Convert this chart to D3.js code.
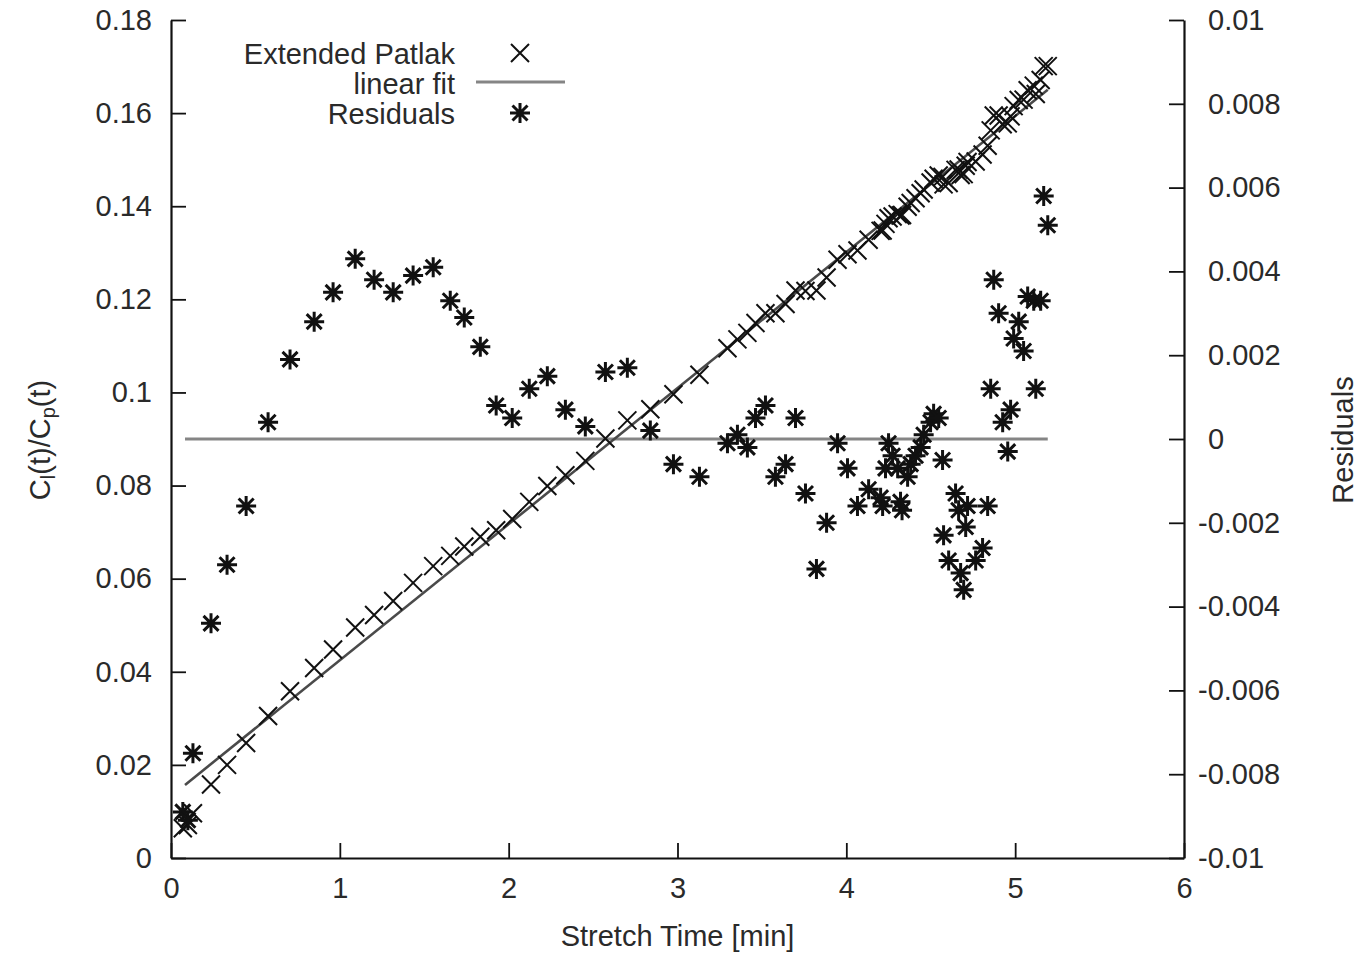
<!DOCTYPE html>
<html>
<head>
<meta charset="utf-8">
<script src="https://cdn.jsdelivr.net/npm/d3@7"></script>
<style>
  html, body { margin: 0; padding: 0; background: #fff; }
  svg text { font-family: "Liberation Sans", Arial, Helvetica, sans-serif; fill: #2a2a2a; }
</style>
</head>
<body>
<svg id="chart" width="1371" height="954"></svg>
<script>
// ---- data ----
const times = [0.07, 0.10, 0.13, 0.237, 0.332, 0.445, 0.575, 0.705, 0.848, 0.960,
  1.091, 1.203, 1.316, 1.434, 1.553, 1.654, 1.737, 1.832, 1.926, 2.021,
  2.122, 2.229, 2.336, 2.454, 2.573, 2.703, 2.839, 2.976, 3.130, 3.296,
  3.355, 3.414, 3.462, 3.521, 3.580, 3.640, 3.699, 3.758, 3.823, 3.883,
  3.948, 4.007, 4.066, 4.132, 4.203, 4.215, 4.232, 4.250, 4.274, 4.304,
  4.321, 4.330, 4.363, 4.381, 4.410, 4.440, 4.458, 4.499, 4.517, 4.547,
  4.570, 4.576, 4.606, 4.647, 4.665, 4.677, 4.695, 4.707, 4.718, 4.766,
  4.807, 4.837, 4.855, 4.873, 4.902, 4.926, 4.956, 4.973, 4.991, 5.021,
  5.050, 5.074, 5.110, 5.122, 5.151, 5.169, 5.193];

const patlak = [0.0064, 0.0071, 0.0096, 0.0158, 0.0200, 0.0247, 0.0305, 0.0358, 0.0408, 0.0448,
  0.0495, 0.0522, 0.0552, 0.0591, 0.0627, 0.0649, 0.0669, 0.0690, 0.0704, 0.0728,
  0.0765, 0.0799, 0.0822, 0.0853, 0.0901, 0.0940, 0.0964, 0.0996, 0.1038, 0.1095,
  0.1114, 0.1128, 0.1149, 0.1170, 0.1170, 0.1190, 0.1219, 0.1218, 0.1219, 0.1247,
  0.1285, 0.1297, 0.1305, 0.1328, 0.1347, 0.1348, 0.1362, 0.1374, 0.1378, 0.1383,
  0.1380, 0.1381, 0.1399, 0.1407, 0.1417, 0.1428, 0.1436, 0.1451, 0.1459, 0.1466,
  0.1463, 0.1447, 0.1450, 0.1478, 0.1479, 0.1467, 0.1469, 0.1487, 0.1495, 0.1496,
  0.1511, 0.1530, 0.1563, 0.1595, 0.1595, 0.1576, 0.1578, 0.1593, 0.1615, 0.1628,
  0.1629, 0.1649, 0.1659, 0.1641, 0.1671, 0.1701, 0.1701];

const residuals = [-0.0089, -0.0091, -0.0075, -0.0044, -0.0030, -0.0016, 0.0004, 0.0019, 0.0028, 0.0035,
  0.0043, 0.0038, 0.0035, 0.0039, 0.0041, 0.0033, 0.0029, 0.0022, 0.0008, 0.0005,
  0.0012, 0.0015, 0.0007, 0.0003, 0.0016, 0.0017, 0.0002, -0.0006, -0.0009, -0.0001,
  0.0001, -0.0002, 0.0005, 0.0008, -0.0009, -0.0006, 0.0005, -0.0013, -0.0031, -0.0020,
  -0.0001, -0.0007, -0.0016, -0.0012, -0.0014, -0.0016, -0.0007, -0.0001, -0.0004, -0.0007,
  -0.0015, -0.0017, -0.0009, -0.0006, -0.0004, -0.0002, 0.0001, 0.0004, 0.0006, 0.0005,
  -0.0005, -0.0023, -0.0029, -0.0013, -0.0017, -0.0032, -0.0036, -0.0021, -0.0016, -0.0029,
  -0.0026, -0.0016, 0.0012, 0.0038, 0.0030, 0.0004, -0.0003, 0.0007, 0.0024, 0.0028,
  0.0021, 0.0034, 0.0033, 0.0012, 0.0033, 0.0058, 0.0051];

const fitX = [0.083, 5.193];
const fitY = [0.0157, 0.1650];
const zeroX = [0.083, 5.193];
const zeroY = [0, 0];

const xTicks = [0, 1, 2, 3, 4, 5, 6];
const yTicks = [0, 0.02, 0.04, 0.06, 0.08, 0.1, 0.12, 0.14, 0.16, 0.18];
const y2Ticks = [-0.01, -0.008, -0.006, -0.004, -0.002, 0, 0.002, 0.004, 0.006, 0.008, 0.01];
const y2Labels = ["-0.01", "-0.008", "-0.006", "-0.004", "-0.002", "0", "0.002", "0.004", "0.006", "0.008", "0.01"];
const legendLabels = ["Extended Patlak", "linear fit", "Residuals"];

// ---- layout ----
const svg = d3.select("#chart");
const L = 171, R = 1184, T = 20, B = 858;
const FS = 29;

const x = d3.scaleLinear().domain([0, 6]).range([L, R]);
const y = d3.scaleLinear().domain([0, 0.18]).range([B, T]);
const y2 = d3.scaleLinear().domain([-0.01, 0.01]).range([B, T]);

function styleAxis(g) {
  g.select(".domain").attr("stroke", "#111").attr("stroke-width", 2.2);
  g.selectAll(".tick line").attr("stroke", "#111").attr("stroke-width", 1.8);
  g.selectAll(".tick text").style("font-size", FS + "px").attr("fill", "#2a2a2a");
}

// left axis
svg.append("g").attr("transform", `translate(${L},0)`)
  .call(d3.axisLeft(y).tickValues(yTicks).tickSizeInner(-15).tickSizeOuter(0).tickPadding(19)
    .tickFormat(d => d3.format("")(+d.toFixed(2))))
  .call(styleAxis);

// bottom axis
svg.append("g").attr("transform", `translate(0,${B})`)
  .call(d3.axisBottom(x).tickValues(xTicks).tickSizeInner(-15).tickSizeOuter(0).tickPadding(19)
    .tickFormat(d3.format("d")))
  .call(styleAxis);

// right axis
const ra = svg.append("g").attr("transform", `translate(${R},0)`)
  .call(d3.axisRight(y2).tickValues(y2Ticks).tickSizeInner(-15).tickSizeOuter(0).tickPadding(14)
    .tickFormat((d, i) => y2Labels[i]))
  .call(styleAxis);
ra.selectAll(".tick text").attr("x", (d) => d < -1e-9 ? 14 : 24);

// fit and zero lines
const line = d3.line().x(d => x(d[0])).y(d => d[2](d[1]));
svg.append("path")
  .attr("d", line(zeroX.map((v, i) => [v, zeroY[i], y2])))
  .attr("fill", "none").attr("stroke", "#858585").attr("stroke-width", 3.2);
svg.append("path")
  .attr("d", line(fitX.map((v, i) => [v, fitY[i], y])))
  .attr("fill", "none").attr("stroke", "#4a4a4a").attr("stroke-width", 2.6);

// markers
const crossPath = "M-9,-9L9,9M-9,9L9,-9";
const starPath = "M-7.5,-7.5L7.5,7.5M-7.5,7.5L7.5,-7.5M-10,0L10,0M0,-10L0,10";

svg.append("g").selectAll("path").data(times).join("path")
  .attr("transform", (d, i) => `translate(${x(d)},${y(patlak[i])})`)
  .attr("d", crossPath).attr("stroke", "#111").attr("stroke-width", 2).attr("fill", "none");

svg.append("g").selectAll("path").data(times).join("path")
  .attr("transform", (d, i) => `translate(${x(d)},${y2(residuals[i])})`)
  .attr("d", starPath).attr("stroke", "#111").attr("stroke-width", 3).attr("fill", "none");

// axis titles
svg.append("text").attr("x", (L + R) / 2).attr("y", 946)
  .attr("text-anchor", "middle").style("font-size", FS + "px").text("Stretch Time [min]");

const lt = svg.append("text")
  .attr("transform", `translate(50,440) rotate(-90)`)
  .attr("text-anchor", "middle").style("font-size", FS + "px");
lt.append("tspan").text("C");
lt.append("tspan").attr("baseline-shift", "-25%").style("font-size", "20px").text("l");
lt.append("tspan").text("(t)/C");
lt.append("tspan").attr("baseline-shift", "-25%").style("font-size", "20px").text("p");
lt.append("tspan").text("(t)");

svg.append("text")
  .attr("transform", `translate(1353,440) rotate(-90)`)
  .attr("text-anchor", "middle").style("font-size", FS + "px").text("Residuals");

// legend
const legY = [54, 84, 114];
svg.append("g").selectAll("text").data(legendLabels).join("text")
  .attr("x", 455).attr("y", (d, i) => legY[i]).attr("dy", "0.36em")
  .attr("text-anchor", "end").style("font-size", FS + "px").text(d => d);
svg.append("path").attr("transform", `translate(520,${legY[0] - 1})`)
  .attr("d", crossPath).attr("stroke", "#111").attr("stroke-width", 2).attr("fill", "none");
svg.append("line").attr("x1", 476).attr("x2", 565).attr("y1", legY[1] - 2).attr("y2", legY[1] - 2)
  .attr("stroke", "#858585").attr("stroke-width", 3.2);
svg.append("path").attr("transform", `translate(520,${legY[2] - 1})`)
  .attr("d", starPath).attr("stroke", "#111").attr("stroke-width", 3).attr("fill", "none");
</script>
</body>
</html>
